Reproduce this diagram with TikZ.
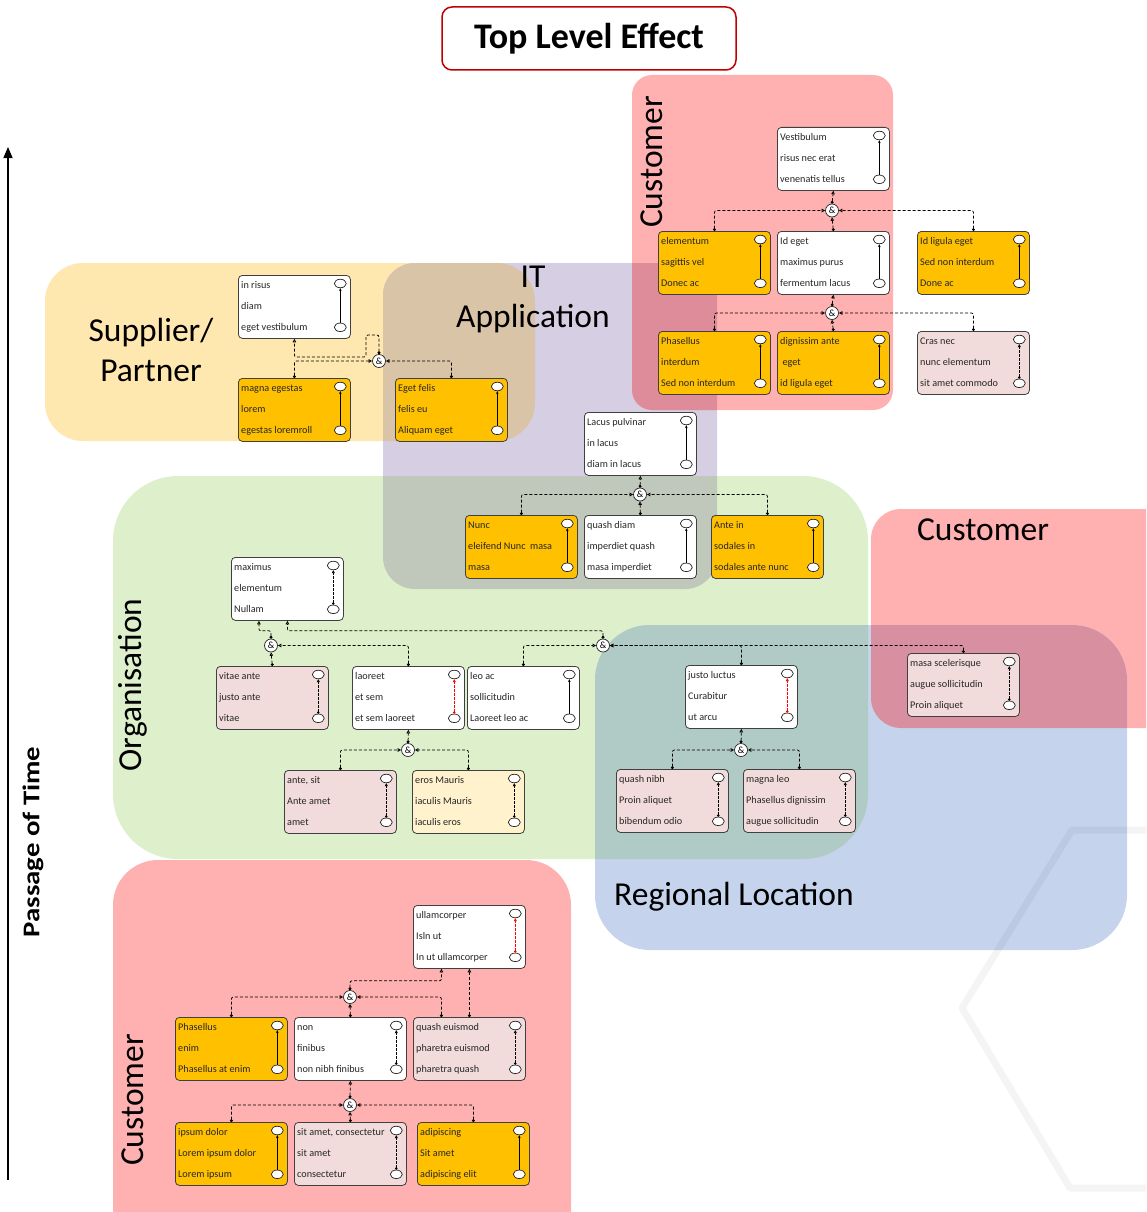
\documentclass[tikz,border=0pt]{standalone}
\usepackage{fontspec}
\setmainfont{Carlito}
\usepackage{graphicx}
\usetikzlibrary{arrows.meta,shapes.geometric,calc}
\definecolor{cyel}{HTML}{FFE8B0}
\definecolor{cpur}{HTML}{D6CEE3}
\definecolor{cyelpur}{HTML}{D9C4A8}
\definecolor{cpink}{HTML}{FFB0B0}
\definecolor{cpinkpur}{HTML}{DF8C9A}
\definecolor{cgreen}{HTML}{DEEFCB}
\definecolor{cgreenpur}{HTML}{C0C8BC}
\definecolor{cblue}{HTML}{C5D4EC}
\definecolor{cgreenblue}{HTML}{B0CAC6}
\definecolor{cpinkblue}{HTML}{D890A0}
\definecolor{corange}{HTML}{FFC000}
\definecolor{cbpink}{HTML}{F2DCDB}
\definecolor{cbyel}{HTML}{FFF2CC}
\definecolor{cdred}{HTML}{C00000}
\tikzset{
 ebx/.style={draw=black!75, line width=0.8pt, rounded corners=4pt, minimum width=112pt, minimum height=63pt, inner sep=0pt},
 etx/.style={anchor=base west, inner sep=0pt, font=\fontsize{10.2}{11}\selectfont, text=black!85},
 eov/.style={ellipse, draw=black!85, line width=0.7pt, fill=white, minimum width=12pt, minimum height=8.5pt, inner sep=0pt},
 solidlk/.style={line width=0.7pt, -{Stealth[length=3pt,width=2.6pt]}},
 dashlk/.style={line width=0.7pt, dash pattern=on 2.5pt off 1.5pt, {Circle[length=2.5pt]}-{Triangle[open,length=3pt,width=3pt]}},
 redlk/.style={dashlk, draw=red},
 andn/.style={circle, draw=black!85, fill=white, line width=0.7pt, minimum size=13pt, inner sep=0pt, font=\fontsize{9.5}{9.5}\selectfont},
 lnk/.style={line width=0.75pt, dash pattern=on 3pt off 2pt, rounded corners=2pt, {Circle[length=2.8pt]}-{Triangle[open,length=3.5pt,width=3.5pt]}},
 rlabel/.style={font=\fontsize{33.5}{40}\selectfont, align=center, inner sep=0pt},
}
\newcommand\ebox[8]{%
  \node[ebx,fill=#4,anchor=north west] (#1) at (#2,#3) {};
  \node[etx] (#1-l1) at ([shift={(3,13.5)}]#1.north west) {#6};
  \node[etx] (#1-l2) at ([shift={(3,34.5)}]#1.north west) {#7};
  \node[etx] (#1-l3) at ([shift={(3,55.5)}]#1.north west) {#8};
  \node[eov] (#1-t) at ([shift={(-10.5,8.5)}]#1.north east) {};
  \node[eov] (#1-b) at ([shift={(-10.5,-11.5)}]#1.south east) {};
  \draw[#5] (#1-b) -- (#1-t);
}
\newcommand\shYel{[rounded corners=38pt] (45,263) rectangle (535,441)}
\newcommand\shPur{[rounded corners=32pt] (383,263) rectangle (717,589)}
\newcommand\shPinkA{[rounded corners=20pt] (632,75) rectangle (893,410)}
\newcommand\shGreen{[rounded corners=65pt] (113,476) rectangle (868,859)}
\newcommand\shPinkB{[rounded corners=30pt] (871,509) rectangle (1180,728)}
\newcommand\shBlue{[rounded corners=55pt] (595,625) rectangle (1127,950)}
\newcommand\shPinkC{[rounded corners=45pt] (113,860) rectangle (571,1260)}
\begin{document}
\begin{tikzpicture}[x=1pt,y=-1pt]
\useasboundingbox (0,0) rectangle (1146,1212);
\clip (0,0) rectangle (1146,1212);
% regions
\fill[cyel] \shYel;
\fill[cpur] \shPur;
\fill[cpink] \shPinkA;
\fill[cgreen] \shGreen;
\fill[cpink] \shPinkB;
\fill[cblue] \shBlue;
\fill[cpink] \shPinkC;
\begin{scope}\clip \shYel; \fill[cyelpur] \shPur; \end{scope}
\begin{scope}\clip \shPur; \fill[cpinkpur] \shPinkA; \end{scope}
\begin{scope}\clip \shPur; \fill[cgreenpur] \shGreen; \end{scope}
\begin{scope}\clip \shGreen; \fill[cgreenblue] \shBlue; \end{scope}
\begin{scope}\clip \shPinkB; \fill[cpinkblue] \shBlue; \end{scope}
% watermark
\draw[line width=7pt, black, opacity=0.045, line join=round] (1170,830) -- (1072,830) -- (962,1008) -- (1070,1188) -- (1170,1188);
% region labels
\node[rlabel] (lsup) at (151,350) {Supplier/\\Partner};
\node[rlabel] (lit) at (533,299) {IT\\Application};
\node[rlabel, rotate=90] (lcust1) at (652,162) {Customer};
\node[rlabel] (lcust2) at (983,530) {Customer};
\node[rlabel, rotate=90] (lorg) at (133,685) {Organisation};
\node[rlabel] (lreg) at (734,897) {Regional Location};
\node[rlabel, rotate=90] (lcust3) at (133,1100) {Customer};
% time arrow
\coordinate (t0) at (8,1180);
\coordinate (t1) at (8,147);
\draw[line width=1.3pt, -{Triangle[length=11pt,width=9pt]}] (t0) -- (t1);
\node[rotate=90, inner sep=0pt] (ltime) at (33,842) {\scalebox{1.2}[1]{\fontsize{24}{24}\selectfont\bfseries Passage of Time}};
% title
\node[draw=cdred, line width=1.5pt, rounded corners=10pt, fill=white, minimum width=294pt, minimum height=63pt, font=\fontsize{36}{36}\selectfont\bfseries] (top) at (589,38.5) {Top Level Effect};
% top customer cluster
\ebox{B1}{777}{127}{white}{solidlk}{Vestibulum}{risus nec erat}{venenatis tellus}
\ebox{B2}{658}{231}{corange}{solidlk}{elementum}{sagittis vel}{Donec ac}
\ebox{B3}{777}{231}{white}{solidlk}{Id eget}{maximus purus}{fermentum lacus}
\ebox{B4}{917}{231}{corange}{solidlk}{Id ligula eget}{Sed non interdum}{Done ac}
\ebox{B5}{658}{331}{corange}{solidlk}{Phasellus}{interdum}{Sed non interdum}
\ebox{B6}{777}{331}{corange}{solidlk}{dignissim ante}{\ eget}{id ligula eget}
\ebox{B7}{917}{331}{cbpink}{dashlk}{Cras nec}{nunc elementum}{sit amet commodo}
\node[andn] (A1) at (832,210.5) {\&};
\node[andn] (A2) at (832,313) {\&};
\draw[lnk] (B2.north) |- (A1.west);
\draw[lnk] (B3.north) -- (A1.south);
\draw[lnk] (B4.north) |- (A1.east);
\draw[lnk] (A1.north) -- (B1.south);
\draw[lnk] (B5.north) |- (A2.west);
\draw[lnk] (B6.north) -- (A2.south);
\draw[lnk] (B7.north) |- (A2.east);
\draw[lnk] (A2.north) -- (B3.south);
% supplier / IT cluster
\ebox{S1}{238}{275}{white}{solidlk}{in risus}{diam}{eget vestibulum}
\ebox{S2}{238}{378}{corange}{solidlk}{magna egestas}{lorem}{egestas loremroll}
\ebox{S3}{395}{378}{corange}{solidlk}{Eget felis}{felis eu}{Aliquam eget}
\node[andn] (A3) at (379,361) {\&};
\draw[lnk] (S2.north) |- (A3.west);
\draw[lnk] (S3.north) |- (A3.east);
\draw[lnk] (A3.north) |- (366,335) -- (366,357) -| (S1.south);
% IT middle cluster
\ebox{L1}{584}{412}{white}{solidlk}{Lacus pulvinar}{in lacus}{diam in lacus}
\ebox{N1}{465}{515}{corange}{solidlk}{Nunc}{eleifend Nunc~~masa}{masa}
\ebox{N2}{584}{515}{white}{solidlk}{quash diam}{imperdiet quash}{masa imperdiet}
\ebox{N3}{711}{515}{corange}{solidlk}{Ante in}{sodales in}{sodales ante nunc}
\node[andn] (A4) at (640,494.5) {\&};
\draw[lnk] (N1.north) |- (A4.west);
\draw[lnk] (N2.north) -- (A4.south);
\draw[lnk] (N3.north) |- (A4.east);
\draw[lnk] (A4.north) -- (L1.south);
% organisation cluster
\ebox{O1}{231}{557}{white}{dashlk}{maximus}{elementum}{Nullam}
\ebox{O2}{216}{666}{cbpink}{dashlk}{vitae ante}{justo ante}{vitae}
\ebox{O3}{352}{666}{white}{redlk}{laoreet}{et sem}{et sem laoreet}
\ebox{O4}{467}{666}{white}{solidlk}{leo ac}{sollicitudin}{Laoreet leo ac}
\ebox{O5}{284}{770}{cbpink}{dashlk}{ante, sit}{Ante amet}{amet}
\ebox{O6}{412}{770}{cbyel}{dashlk}{eros Mauris}{iaculis Mauris}{iaculis eros}
\node[andn] (A5) at (271,645.5) {\&};
\node[andn] (A6) at (408,750) {\&};
\node[andn] (A7) at (603,645.5) {\&};
\draw[lnk] (O2.north) -- (A5.south);
\draw[lnk] (O3.north) |- (A5.east);
\draw[lnk] (A5.north) |- ([xshift=-28.5pt,yshift=-10pt]O1.south) -- ([xshift=-28.5pt]O1.south);
\draw[lnk] (A7.north) |- ([yshift=-10pt]O1.south) -- (O1.south);
\draw[lnk] (O4.north) |- (A7.west);
\draw[lnk] (O5.north) |- (A6.west);
\draw[lnk] (O6.north) |- (A6.east);
\draw[lnk] (A6.north) -- (O3.south);
% regional cluster
\ebox{R1}{685}{665}{white}{redlk}{justo luctus}{Curabitur}{ut arcu}
\ebox{R2}{616}{769}{cbpink}{dashlk}{quash nibh}{Proin aliquet}{bibendum odio}
\ebox{R3}{743}{769}{cbpink}{dashlk}{magna leo}{Phasellus dignissim}{augue sollicitudin}
\ebox{R4}{907}{653}{cbpink}{dashlk}{masa scelerisque}{augue sollicitudin}{Proin aliquet}
\node[andn] (A8) at (741,750) {\&};
\draw[lnk] (R1.north) |- (A7.east);
\draw[lnk] (R4.north) |- (A7.east);
\draw[lnk] (R2.north) |- (A8.west);
\draw[lnk] (R3.north) |- (A8.east);
\draw[lnk] (A8.north) -- (R1.south);
% bottom customer cluster
\ebox{C1}{413}{905}{white}{redlk}{ullamcorper}{Isln ut}{In ut ullamcorper}
\ebox{C2}{175}{1017}{corange}{solidlk}{Phasellus}{enim}{Phasellus at enim}
\ebox{C3}{294}{1017}{white}{dashlk}{non}{finibus}{non nibh finibus}
\ebox{C4}{413}{1017}{cbpink}{dashlk}{quash euismod}{pharetra euismod}{pharetra quash}
\ebox{C5}{175}{1122}{corange}{solidlk}{ipsum dolor}{Lorem ipsum dolor}{Lorem ipsum}
\ebox{C6}{294}{1122}{cbpink}{dashlk}{sit amet, consectetur}{sit amet}{consectetur}
\ebox{C7}{417}{1122}{corange}{solidlk}{adipiscing}{Sit amet}{adipiscing elit}
\node[andn] (A9) at (350,997) {\&};
\node[andn] (A10) at (350,1105) {\&};
\draw[lnk] (C2.north) |- (A9.west);
\draw[lnk] (C3.north) -- (A9.south);
\draw[lnk] ([xshift=-28pt]C4.north) |- (A9.east);
\draw[lnk] (A9.north) |- ([xshift=-28pt,yshift=-12pt]C1.south) -- ([xshift=-28pt]C1.south);
\draw[lnk] (C4.north) -- (C1.south);
\draw[lnk] (C5.north) |- (A10.west);
\draw[lnk] (C6.north) -- (A10.south);
\draw[lnk] (C7.north) |- (A10.east);
\draw[lnk] (A10.north) -- (C3.south);
\end{tikzpicture}
\end{document}
